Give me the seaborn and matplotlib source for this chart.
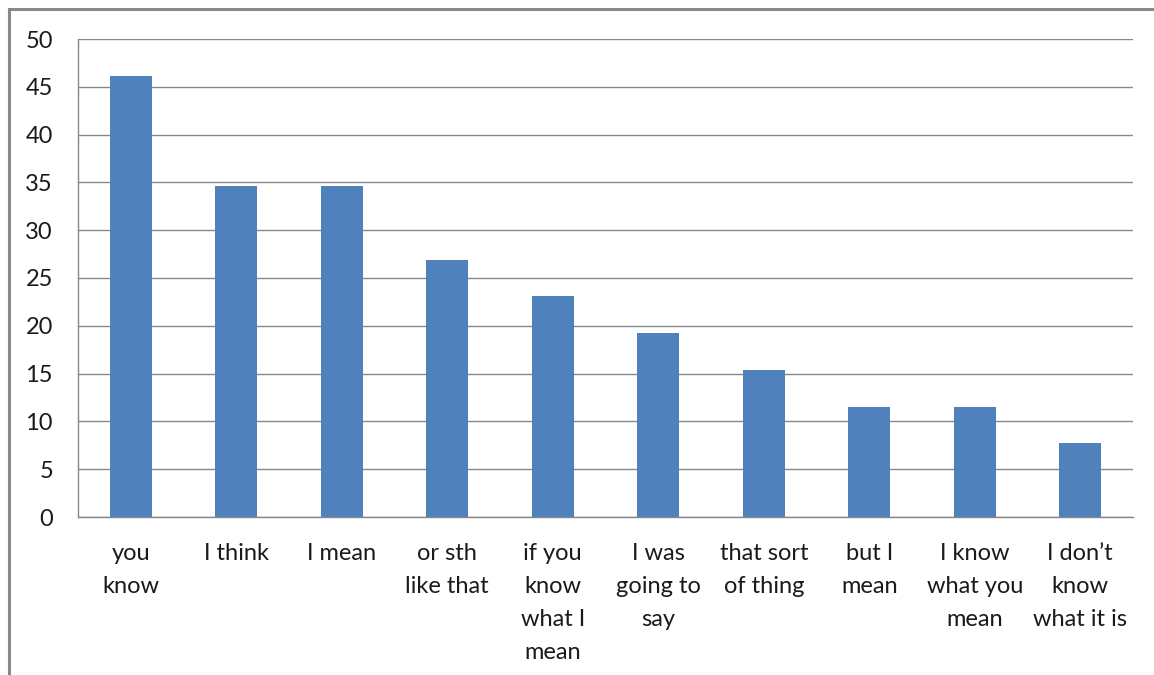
import numpy as np
import pandas as pd
import matplotlib
matplotlib.use('Agg')
import matplotlib.pyplot as plt
import matplotlib.patches as mpatches
import seaborn as sns

phrases = ['you\nknow', 'I think', 'I mean', 'or sth\nlike that',
           'if you\nknow\nwhat I\nmean', 'I was\ngoing to\nsay',
           'that sort\nof thing', 'but I\nmean', 'I know\nwhat you\nmean',
           'I don\u2019t\nknow\nwhat it is']
percent = [46.15, 34.62, 34.62, 26.92, 23.08, 19.23, 15.38, 11.54, 11.54, 7.69]
yticks = [0, 5, 10, 15, 20, 25, 30, 35, 40, 45, 50]

df = pd.DataFrame({'phrase': phrases, 'percent': percent})

sns.set_style('white')
plt.rcParams['font.family'] = ['Lato', 'DejaVu Sans']

W, H = 1154, 675
fig = plt.figure(figsize=(W / 100, H / 100), dpi=100)
ax = fig.add_axes([78 / W, 1 - 517 / H, (1133 - 78) / W, (517 - 39) / H])

grid_c = '#888888'
sns.barplot(data=df, x='phrase', y='percent', color='#4F81BD', width=0.4,
            saturation=1, ax=ax, zorder=3, linewidth=0)

ax.set_xlim(-0.5, len(phrases) - 0.5)
ax.set_ylim(0, 50)
ax.set_yticks(yticks)
ax.set_yticklabels([str(v) for v in yticks], fontsize=17, color='#1a1a1a')
ax.yaxis.grid(True, color=grid_c, lw=1.0, zorder=0)
ax.set_axisbelow(True)
ax.tick_params(axis='y', length=6, width=1.0, color=grid_c, pad=12)

# category ticks between bars, labels centered on bars
ax.set_xticks(np.arange(-0.5, len(phrases), 1.0))
ax.set_xticklabels([])
ax.set_xticks(np.arange(len(phrases)), minor=True)
ax.set_xticklabels(phrases, minor=True, fontsize=17, color='#1a1a1a',
                   linespacing=1.7, va='top')
ax.tick_params(axis='x', which='major', length=6.5, width=1.0, color=grid_c)
ax.tick_params(axis='x', which='minor', length=0, pad=19)

ax.set_xlabel('')
ax.set_ylabel('')
for s in ['top', 'right']:
    ax.spines[s].set_visible(False)
for s in ['left', 'bottom']:
    ax.spines[s].set_color(grid_c)
    ax.spines[s].set_linewidth(1.0)

# outer chart frame (clipped at right and bottom)
frame = mpatches.Rectangle((9 / W, -0.5), 2, 1.5 - 9 / H, transform=fig.transFigure,
                           fill=False, edgecolor='#888888', lw=2.2)
fig.patches.append(frame)

fig.savefig('out.png', dpi=100, facecolor='white')
